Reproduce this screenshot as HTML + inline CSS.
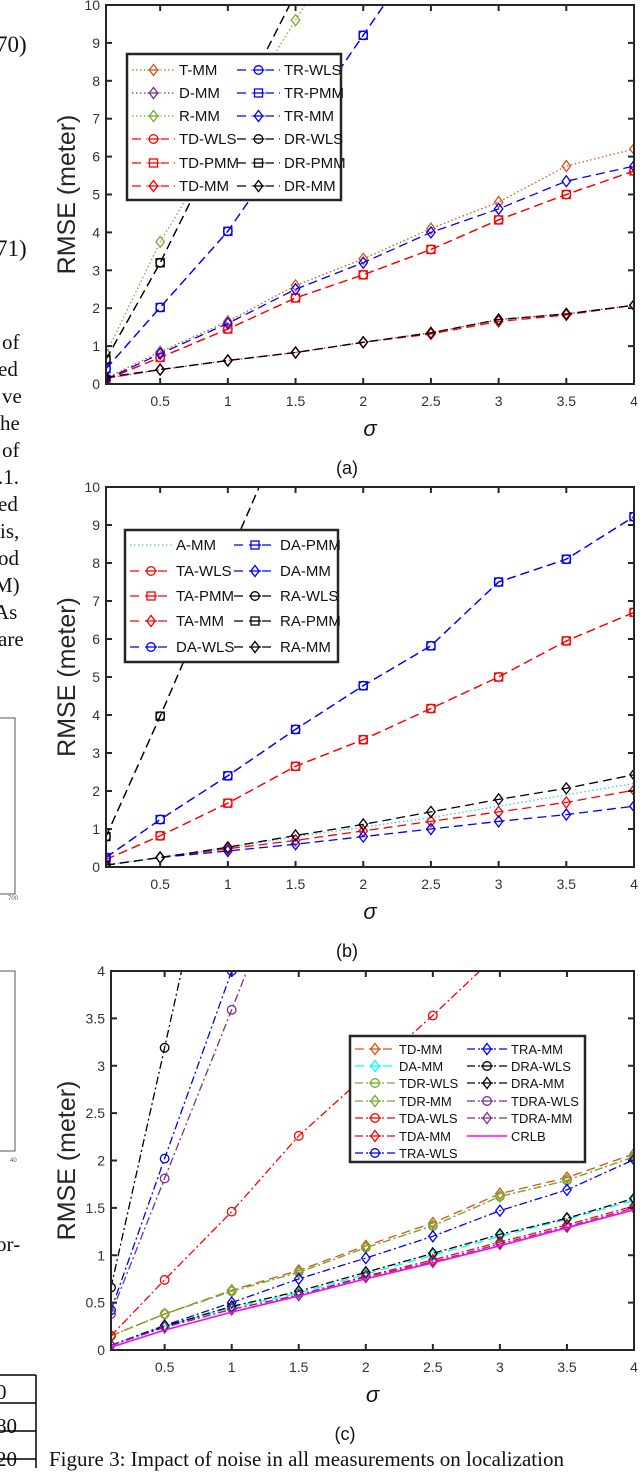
<!DOCTYPE html>
<html><head><meta charset="utf-8">
<style>
html,body{margin:0;padding:0;background:#fff;}
body{width:640px;height:1468px;overflow:hidden;position:relative;font-family:"Liberation Sans",sans-serif;}
.pt{position:absolute;font-family:"Liberation Serif",serif;font-size:21px;color:#111;white-space:nowrap;}
svg text{font-family:"Liberation Sans",sans-serif;}
</style></head>
<body>
<div>
<div class="pt" style="left:-4px;top:32px;font-size:23px">70)</div>
<div class="pt" style="left:-4px;top:236px;font-size:23px">71)</div>
<div class="pt" style="left:2px;top:330px">of</div>
<div class="pt" style="left:-2px;top:357px">ed</div>
<div class="pt" style="left:2px;top:384px">ve</div>
<div class="pt" style="left:0px;top:411px">he</div>
<div class="pt" style="left:2px;top:438px">of</div>
<div class="pt" style="left:-2px;top:465px">.1.</div>
<div class="pt" style="left:-2px;top:492px">ed</div>
<div class="pt" style="left:0px;top:519px">is,</div>
<div class="pt" style="left:-2px;top:546px">od</div>
<div class="pt" style="left:-6px;top:573px">M)</div>
<div class="pt" style="left:-6px;top:600px">As</div>
<div class="pt" style="left:-2px;top:627px">are</div>
<div class="pt" style="left:-4px;top:1232px">or-</div>
<div class="pt" style="left:-4px;top:1380px">0</div>
<div class="pt" style="left:-4px;top:1414px">80</div>
<div class="pt" style="left:-4px;top:1447px">20</div>
<div class="pt" style="left:49px;top:1447px">Figure 3: Impact of noise in all measurements on localization</div>
</div>
<svg id="s" width="640" height="1468" style="position:absolute;left:0;top:0" xmlns="http://www.w3.org/2000/svg">
<g fill="none" stroke="#555" stroke-width="1">
<rect x="-5" y="718" width="20" height="176"/><rect x="-5" y="971" width="20" height="180"/>
<line x1="-1" y1="1375" x2="36" y2="1375" stroke="#000" stroke-width="1.5"/>
<line x1="-1" y1="1403" x2="36" y2="1403" stroke="#000" stroke-width="1.5"/>
<line x1="-1" y1="1431" x2="36" y2="1431" stroke="#000" stroke-width="1.5"/>
<line x1="-1" y1="1459" x2="36" y2="1459" stroke="#000" stroke-width="1.5"/>
<line x1="36" y1="1375" x2="36" y2="1468" stroke="#000" stroke-width="1.5"/>
</g>
<text x="8" y="900" font-size="6" fill="#555">700</text>
<text x="10" y="1162" font-size="6" fill="#555">40</text>
</svg>
<script>
const xVals=[0.1,0.5,1,1.5,2,2.5,3,3.5,4];
const xTicks=[0.5,1,1.5,2,2.5,3,3.5,4];
const yTicksA=[0,1,2,3,4,5,6,7,8,9,10];
const yTicksC=[0,0.5,1,1.5,2,2.5,3,3.5,4];
// chart a
const aT_MM=[0.15,0.85,1.65,2.6,3.3,4.1,4.8,5.75,6.2];
const aD_MM=[0.15,0.38,0.62,0.83,1.1,1.35,1.7,1.85,2.08];
const aR_MM=[0.8,3.75,6.7,9.6,12.5,15,17,19,21];
const aTD_WLS=[0.12,0.7,1.45,2.27,2.88,3.55,4.33,5.0,5.62];
const aTD_PMM=[0.12,0.7,1.45,2.27,2.88,3.55,4.33,5.0,5.62];
const aTD_MM=[0.15,0.38,0.62,0.83,1.1,1.32,1.65,1.82,2.08];
const aTR_WLS=[0.4,2.02,4.03,6.6,9.2,11.8,14,16,18];
const aTR_PMM=[0.4,2.02,4.03,6.6,9.2,11.8,14,16,18];
const aTR_MM=[0.12,0.8,1.6,2.5,3.2,4.0,4.62,5.35,5.75];
const aDR_WLS=[0.65,3.2,6.8,10.3,13.8,17,20,23,26];
const aDR_PMM=[0.65,3.2,6.8,10.3,13.8,17,20,23,26];
const aDR_MM=[0.18,0.38,0.62,0.83,1.1,1.35,1.7,1.85,2.08];
// chart b
const bA_MM=[0.05,0.25,0.5,0.8,1.05,1.3,1.6,1.9,2.2];
const bTA_WLS=[0.2,0.82,1.68,2.65,3.35,4.17,5.0,5.95,6.7];
const bTA_PMM=[0.2,0.82,1.68,2.65,3.35,4.17,5.0,5.95,6.7];
const bTA_MM=[0.05,0.25,0.48,0.7,0.95,1.2,1.45,1.7,2.02];
const bDA_WLS=[0.25,1.25,2.4,3.62,4.77,5.82,7.5,8.1,9.22];
const bDA_PMM=[0.25,1.25,2.4,3.62,4.77,5.82,7.5,8.1,9.22];
const bDA_MM=[0.05,0.25,0.42,0.6,0.8,1.0,1.2,1.38,1.6];
const bRA_WLS=[0.8,3.97,8.1,12.2,16,20,24,28,32];
const bRA_PMM=[0.8,3.97,8.1,12.2,16,20,24,28,32];
const bRA_MM=[0.05,0.25,0.52,0.83,1.12,1.45,1.78,2.07,2.43];
// chart c
const cTD_MM=[0.15,0.38,0.63,0.84,1.1,1.34,1.65,1.82,2.07];
const cDA_MM=[0.05,0.25,0.45,0.6,0.8,1.0,1.2,1.38,1.58];
const cTDR_WLS=[0.15,0.38,0.62,0.82,1.08,1.31,1.62,1.79,2.04];
const cTDR_MM=[0.15,0.38,0.62,0.82,1.08,1.31,1.62,1.79,2.04];
const cTDA_WLS=[0.15,0.74,1.46,2.26,2.9,3.53,4.2,4.9,5.6];
const cTDA_MM=[0.05,0.24,0.43,0.58,0.78,0.95,1.14,1.32,1.52];
const cTRA_WLS=[0.42,2.02,4.0,6,8,10,12,14,16];
const cTRA_MM=[0.05,0.26,0.5,0.75,0.97,1.2,1.47,1.69,2.01];
const cDRA_WLS=[0.66,3.19,6.4,9.6,12.8,16,19,22,25];
const cDRA_MM=[0.05,0.25,0.46,0.62,0.82,1.02,1.22,1.39,1.6];
const cTDRA_WLS=[0.38,1.81,3.59,5.4,7.2,9,10.8,12.6,14.4];
const cTDRA_MM=[0.05,0.24,0.43,0.58,0.77,0.93,1.12,1.3,1.5];
const cCRLB=[0.03,0.21,0.4,0.57,0.75,0.92,1.1,1.29,1.48];

const OR='#D95319',PU='#7E2F8E',GR='#77AC30',LB='#4DBEEE',CY='#00FFFF',R='#FF0000',B='#0000FF',K='#000000',M='#FF00FF';
const DOT='1.5 2.5',DASH='9 5',DD='8 3 2 3';
const NS='http://www.w3.org/2000/svg';
const svg=document.getElementById('s');
function mk(tag,attrs,parent){const e=document.createElementNS(NS,tag);for(const k in attrs)e.setAttribute(k,attrs[k]);(parent||svg).appendChild(e);return e;}
function slug(s){return s.toLowerCase().replace(/[^a-z0-9]+/g,'-');}
function marker(g,type,x,y,color){
  let e;
  if(type==='o'){e=mk('circle',{cx:x,cy:y,r:4.3,fill:'none',stroke:color,'stroke-width':1.3},g);}
  else if(type==='s'){e=mk('rect',{x:x-4,y:y-4,width:8,height:8,fill:'none',stroke:color,'stroke-width':1.3},g);}
  else if(type==='d'){e=mk('polygon',{points:`${x},${y-5.5} ${x+4.2},${y} ${x},${y+5.5} ${x-4.2},${y}`,fill:'none',stroke:color,'stroke-width':1.3},g);}
  if(e){
  }
}
function chart(cfg){
  const {id,L,Rt,T,Bt,ymax,yTicks,series,leg}=cfg;
  const sx=v=>L+(v-0.1)/(4-0.1)*(Rt-L);
  const sy=v=>Bt-v/ymax*(Bt-T);
  const g=mk('g',{});
  
  
  const cp=mk('clipPath',{id:'cp'+id},g);mk('rect',{x:L,y:T,width:Rt-L,height:Bt-T},cp);
  const pg=mk('g',{'clip-path':'url(#cp'+id+')'},g);
  
  
  series.forEach(s=>{
    const sg=mk('g',{},pg);
    
    
    const pts=s.v.map((v,i)=>sx(xVals[i]).toFixed(1)+','+sy(v).toFixed(1)).join(' ');
    const pl=mk('polyline',{points:pts,fill:'none',stroke:s.c,'stroke-width':s.w||1.3,'stroke-dasharray':s.d||'none'},sg);
    
    
    if(s.m) s.v.forEach((v,i)=>marker(sg,s.m,sx(xVals[i]),sy(v),s.c));
  });
  const ax=mk('g',{stroke:'#262626','stroke-width':2,fill:'none'},g);
  
  
  mk('rect',{x:L,y:T,width:Rt-L,height:Bt-T},ax);
  xTicks.forEach(t=>{const x=sx(t);mk('line',{x1:x,y1:Bt,x2:x,y2:Bt-6},ax);mk('line',{x1:x,y1:T,x2:x,y2:T+6},ax);
    const tx=mk('text',{x:x,y:Bt+22,'font-size':14,fill:'#333','text-anchor':'middle',stroke:'none'},g);tx.textContent=t;
    
    });
  yTicks.forEach(t=>{const y=sy(t);mk('line',{x1:L,y1:y,x2:L+6,y2:y},ax);mk('line',{x1:Rt,y1:y,x2:Rt-6,y2:y},ax);
    const tx=mk('text',{x:L-6,y:y+5,'font-size':14,fill:'#333','text-anchor':'end',stroke:'none'},g);tx.textContent=t;
    
    });
  const yl=mk('text',{x:0,y:0,'font-size':25,fill:'#262626','text-anchor':'middle',transform:`translate(75,${(T+Bt)/2}) rotate(-90)`},g);yl.textContent='RMSE (meter)';
  
  
  const xl=mk('text',{x:(L+Rt)/2,y:Bt+52,'font-size':22,fill:'#111','text-anchor':'middle','font-style':'italic','font-family':'Liberation Serif, serif'},g);xl.textContent='σ';
  
  
  const cap=mk('text',{x:cfg.capx,y:Bt+90,'font-size':18,fill:'#111','text-anchor':'middle','font-family':'Liberation Serif, serif'},g);cap.textContent='('+id+')';
  
  
  const lg=mk('g',{},g);
  
  
  mk('rect',{x:leg.x,y:leg.y,width:leg.w,height:leg.h,fill:'#fff',stroke:'#262626','stroke-width':2.5},lg);
  series.forEach((s,i)=>{
    const col=i<leg.rows.length?0:1, row=col?i-leg.rows.length:i;
    const y=leg.rows[row], c=leg.cols[col];
    const eg=mk('g',{},lg);
    
    
    mk('line',{x1:c,y1:y,x2:c+leg.lw,y2:y,stroke:s.c,'stroke-width':s.w||1.3,'stroke-dasharray':s.d||'none'},eg);
    if(s.m){mk('line',{x1:c+leg.lw/2-7,y1:y,x2:c+leg.lw/2+7,y2:y,stroke:'#fff','stroke-width':3},eg);
      mk('line',{x1:c+leg.lw/2-6,y1:y,x2:c+leg.lw/2+6,y2:y,stroke:s.c,'stroke-width':s.w||1.3},eg);
      marker(eg,s.m,c+leg.lw/2,y,s.c);}
    const t=mk('text',{x:c+leg.lw+4,y:y+5,'font-size':leg.fs,fill:'#111'},eg);t.textContent=s.n;
  });
}
chart({id:'a',L:106,Rt:634,T:5,Bt:384,ymax:10,yTicks:yTicksA,capx:347,
 leg:{x:127,y:54,w:214,h:146,rows:[70,93,116,139,163,186],cols:[132,237],lw:43,fs:15},
 series:[
 {n:'T-MM',v:aT_MM,c:OR,d:DOT,m:'d'},{n:'D-MM',v:aD_MM,c:PU,d:DOT,m:'d'},{n:'R-MM',v:aR_MM,c:GR,d:DOT,m:'d'},
 {n:'TD-WLS',v:aTD_WLS,c:R,d:DASH,m:'o'},{n:'TD-PMM',v:aTD_PMM,c:R,d:DASH,m:'s'},{n:'TD-MM',v:aTD_MM,c:R,d:DASH,m:'d'},
 {n:'TR-WLS',v:aTR_WLS,c:B,d:DASH,m:'o'},{n:'TR-PMM',v:aTR_PMM,c:B,d:DASH,m:'s'},{n:'TR-MM',v:aTR_MM,c:B,d:DASH,m:'d'},
 {n:'DR-WLS',v:aDR_WLS,c:K,d:DASH,m:'o'},{n:'DR-PMM',v:aDR_PMM,c:K,d:DASH,m:'s'},{n:'DR-MM',v:aDR_MM,c:K,d:DASH,m:'d'}]});
chart({id:'b',L:106,Rt:634,T:487,Bt:867,ymax:10,yTicks:yTicksA,capx:347,
 leg:{x:125,y:530,w:213,h:132,rows:[545,571,596,621,647],cols:[130,234],lw:42,fs:15},
 series:[
 {n:'A-MM',v:bA_MM,c:LB,d:DOT},{n:'TA-WLS',v:bTA_WLS,c:R,d:DASH,m:'o'},{n:'TA-PMM',v:bTA_PMM,c:R,d:DASH,m:'s'},
 {n:'TA-MM',v:bTA_MM,c:R,d:DASH,m:'d'},{n:'DA-WLS',v:bDA_WLS,c:B,d:DASH,m:'o'},{n:'DA-PMM',v:bDA_PMM,c:B,d:DASH,m:'s'},
 {n:'DA-MM',v:bDA_MM,c:B,d:DASH,m:'d'},{n:'RA-WLS',v:bRA_WLS,c:K,d:DASH,m:'o'},{n:'RA-PMM',v:bRA_PMM,c:K,d:DASH,m:'s'},
 {n:'RA-MM',v:bRA_MM,c:K,d:DASH,m:'d'}]});
chart({id:'c',L:111,Rt:634,T:971,Bt:1350,ymax:4,yTicks:yTicksC,capx:345,
 leg:{x:350,y:1036,w:235,h:126,rows:[1049,1066,1083,1101,1118,1136,1153],cols:[355,467],lw:40,fs:13},
 series:[
 {n:'TD-MM',v:cTD_MM,c:OR,d:DASH,m:'d'},{n:'DA-MM',v:cDA_MM,c:CY,d:DASH,m:'d'},{n:'TDR-WLS',v:cTDR_WLS,c:GR,d:DD,m:'o'},
 {n:'TDR-MM',v:cTDR_MM,c:GR,d:DD,m:'d'},{n:'TDA-WLS',v:cTDA_WLS,c:R,d:DD,m:'o'},{n:'TDA-MM',v:cTDA_MM,c:R,d:DD,m:'d'},
 {n:'TRA-WLS',v:cTRA_WLS,c:B,d:DD,m:'o'},{n:'TRA-MM',v:cTRA_MM,c:B,d:DD,m:'d'},{n:'DRA-WLS',v:cDRA_WLS,c:K,d:DD,m:'o'},
 {n:'DRA-MM',v:cDRA_MM,c:K,d:DD,m:'d'},{n:'TDRA-WLS',v:cTDRA_WLS,c:PU,d:DD,m:'o'},{n:'TDRA-MM',v:cTDRA_MM,c:PU,d:DD,m:'d'},
 {n:'CRLB',v:cCRLB,c:M,w:1.6}]});
</script>
</body></html>
